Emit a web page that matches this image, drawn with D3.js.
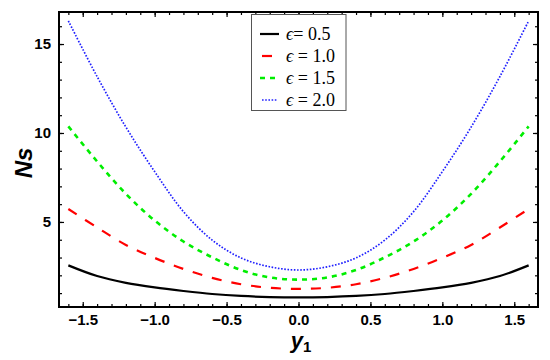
<!DOCTYPE html>
<html>
<head>
<meta charset="utf-8">
<script src="https://cdn.jsdelivr.net/npm/d3@7"></script>
<style>
  body { margin: 0; background: #fff; }
  svg { display: block; }
</style>
</head>
<body>
<svg id="chart" width="550" height="360"></svg>
<script>
// y1 values where curves were read
var xs = [-1.6, -1.4, -1.2, -1.0, -0.8, -0.6, -0.4, -0.2, 0, 0.2, 0.4, 0.6, 0.8, 1.0, 1.2, 1.4, 1.6];
// Ns for each epsilon
var ns05 = [2.56, 1.96, 1.58, 1.32, 1.12, 0.95, 0.84, 0.78, 0.76, 0.78, 0.84, 0.95, 1.12, 1.32, 1.58, 1.96, 2.56];
var ns10 = [5.73, 4.69, 3.71, 2.98, 2.36, 1.86, 1.50, 1.30, 1.24, 1.30, 1.50, 1.86, 2.36, 2.98, 3.71, 4.69, 5.73];
var ns15 = [10.37, 8.40, 6.58, 5.08, 3.90, 3.01, 2.30, 1.88, 1.76, 1.88, 2.30, 3.01, 3.90, 5.08, 6.58, 8.40, 10.37];
var ns20 = [16.3, 13.17, 10.33, 7.83, 5.58, 3.98, 2.98, 2.48, 2.3, 2.48, 2.98, 3.98, 5.58, 7.83, 10.33, 13.17, 16.3];
var legendLabels = ["= 0.5", " = 1.0", " = 1.5", " = 2.0"];
var xTicks = [-1.5, -1.0, -0.5, 0.0, 0.5, 1.0, 1.5];
var yTicks = [5, 10, 15];

// note: "top" is taken by window.top, so use other names
var plotL = 59, plotR = 538, plotT = 12, plotB = 307;

var svg = d3.select("#chart");

var x = d3.scaleLinear().domain([-1.665, 1.665]).range([plotL, plotR]);
var y = d3.scaleLinear().domain([0.22, 16.8]).range([plotB, plotT]);

var series = [
  {vals: ns05, color: "#000000", dash: null, width: 2.2},
  {vals: ns10, color: "#ff0000", dash: "10,10", width: 2.2},
  {vals: ns15, color: "#00ee00", dash: "5,5", width: 2.6},
  {vals: ns20, color: "#2020ff", dash: "1.6,1.6", width: 1.7}
];

var line = d3.line()
  .curve(d3.curveCatmullRom)
  .x(function(d, i) { return x(xs[i]); })
  .y(function(d) { return y(d); });

svg.append("g").selectAll("path")
  .data(series)
  .enter().append("path")
  .attr("d", function(d) { return line(d.vals); })
  .attr("fill", "none")
  .attr("stroke", function(d) { return d.color; })
  .attr("stroke-width", function(d) { return d.width; })
  .attr("stroke-dasharray", function(d) { return d.dash; });

// axes, ticks inward like the original frame
var minorX = d3.range(-16, 17).map(function(v) { return v / 10; });
var minorY = d3.range(1, 17);

function fmtX(d) { return d3.format(".1f")(d).replace("-", "\u2212"); }

var xAxisB = d3.axisBottom(x).tickValues(xTicks).tickSize(-5).tickPadding(7).tickFormat(fmtX);
var xAxisBm = d3.axisBottom(x).tickValues(minorX).tickSize(-3).tickFormat("");
var xAxisT = d3.axisTop(x).tickValues(xTicks).tickSize(-5).tickFormat("");
var xAxisTm = d3.axisTop(x).tickValues(minorX).tickSize(-3).tickFormat("");
var yAxisL = d3.axisLeft(y).tickValues(yTicks).tickSize(-5).tickPadding(8);
var yAxisLm = d3.axisLeft(y).tickValues(minorY).tickSize(-3).tickFormat("");
var yAxisR = d3.axisRight(y).tickValues(yTicks).tickSize(-5).tickFormat("");
var yAxisRm = d3.axisRight(y).tickValues(minorY).tickSize(-3).tickFormat("");

function addAxis(ax, tx, ty) {
  var g = svg.append("g").attr("transform", "translate(" + tx + "," + ty + ")").call(ax);
  g.select(".domain").remove();
  g.selectAll(".tick line").attr("stroke", "#000").attr("stroke-width", 1.2);
  g.selectAll("text")
    .attr("font-family", "Liberation Sans, Arial, sans-serif")
    .attr("font-weight", "bold")
    .attr("font-size", 15)
    .attr("fill", "#000");
  return g;
}
addAxis(xAxisBm, 0, plotB);
addAxis(xAxisB, 0, plotB);
addAxis(xAxisTm, 0, plotT);
addAxis(xAxisT, 0, plotT);
addAxis(yAxisLm, plotL, 0);
addAxis(yAxisL, plotL, 0);
addAxis(yAxisRm, plotR, 0);
addAxis(yAxisR, plotR, 0);

// frame
svg.append("rect")
  .attr("x", plotL).attr("y", plotT)
  .attr("width", plotR - plotL).attr("height", plotB - plotT)
  .attr("fill", "none").attr("stroke", "#000").attr("stroke-width", 2);

// axis titles
var xt = svg.append("text")
  .attr("x", 301).attr("y", 348)
  .attr("text-anchor", "middle")
  .attr("font-family", "Liberation Sans, Arial, sans-serif")
  .attr("font-weight", "bold")
  .attr("font-size", 22);
xt.append("tspan").attr("font-style", "italic").text("y");
xt.append("tspan").attr("font-size", 15).attr("dy", 4).text("1");

svg.append("text")
  .attr("transform", "translate(32,163) rotate(-90)")
  .attr("text-anchor", "middle")
  .attr("font-family", "Liberation Sans, Arial, sans-serif")
  .attr("font-weight", "bold")
  .attr("font-style", "italic")
  .attr("font-size", 24)
  .text("Ns");

// legend
var lg = svg.append("g");
lg.append("rect")
  .attr("x", 251.5).attr("y", 14.5)
  .attr("width", 94.5).attr("height", 96)
  .attr("fill", "#fff").attr("stroke", "#555").attr("stroke-width", 1);

var sampleX = [[260, 279], [262, 272], [260, 277], [262, 278]];
var rowY = [34, 56, 78, 100];

lg.selectAll("line.sample")
  .data(series)
  .enter().append("line")
  .attr("class", "sample")
  .attr("x1", function(d, i) { return sampleX[i][0]; })
  .attr("x2", function(d, i) { return sampleX[i][1]; })
  .attr("y1", function(d, i) { return rowY[i]; })
  .attr("y2", function(d, i) { return rowY[i]; })
  .attr("stroke", function(d) { return d.color; })
  .attr("stroke-width", function(d) { return d.width; })
  .attr("stroke-dasharray", function(d, i) { return i == 1 ? null : d.dash; });

var lt = lg.selectAll("text")
  .data(legendLabels)
  .enter().append("text")
  .attr("x", 286)
  .attr("y", function(d, i) { return rowY[i] + 6; })
  .attr("font-family", "Liberation Serif, Times New Roman, serif")
  .attr("font-size", 18)
  .attr("fill", "#000");
lt.append("tspan").attr("font-style", "italic").text("\u03f5");
lt.append("tspan").text(function(d) { return d; });
</script>
</body>
</html>
